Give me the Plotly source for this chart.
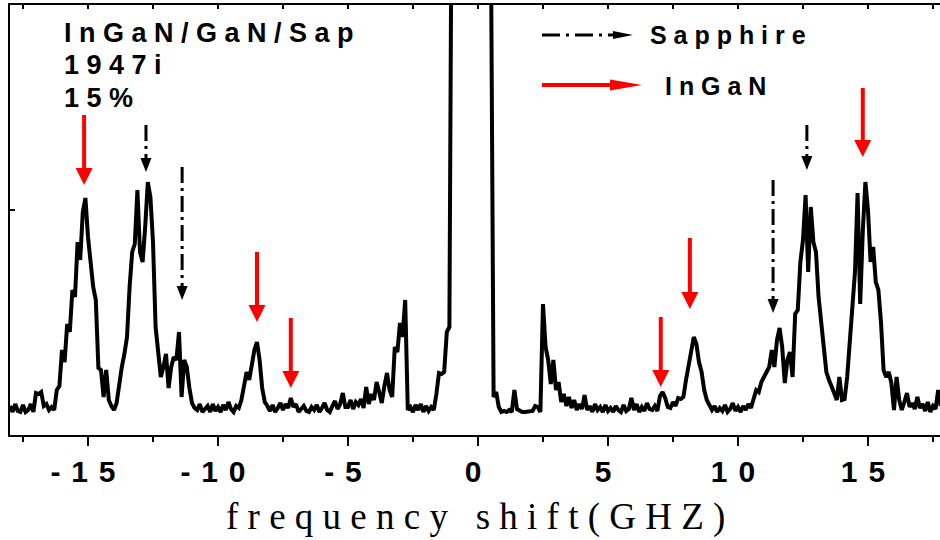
import numpy as np
import plotly.graph_objects as go

# ---------------- data ----------------
# frequency grid, GHz (0.1 GHz steps from -18.0 to 17.8)
x_ghz = np.round(np.arange(-180, 179) / 10.0, 1)

# Brillouin intensity, arbitrary units (one row per 1 GHz)
intensity = (
    [6, 0, 8, 1, 0, 7, 0, 2, 8, 0] +              # -18.0 .. -17.1
    [19, 18, 20, 6, 8, 2, 5, 2, 22, 26] +         # -17.0 .. -16.1
    [62, 50, 88, 80, 122, 115, 170, 152, 200, 214] +  # -16.0 .. -15.1
    [175, 145, 125, 112, 44, 42, 15, 42, 12, 6] +     # -15.0 .. -14.1
    [2, 9, 30, 45, 58, 75, 125, 160, 168, 222] +      # -14.0 .. -13.1
    [160, 150, 185, 230, 215, 170, 85, 60, 35, 45] +  # -13.0 .. -12.1
    [58, 24, 45, 55, 52, 80, 15, 52, 45, 24] +        # -12.0 .. -11.1
    [9, 4, 2, 8, 0, 3, 6, 0, 8, 1] +                  # -11.0 .. -10.1
    [5, 0, 7, 2, 10, 3, 0, 6, 4, 12] +                # -10.0 .. -9.1
    [25, 40, 32, 50, 62, 70, 52, 24, 10, 6] +         # -9.0 .. -8.1
    [1, 7, 0, 4, 9, 2, 8, 4, 14, 5] +                 # -8.0 .. -7.1
    [8, 0, 3, 6, 1, 0, 5, 2, 7, 0] +                  # -7.0 .. -6.1
    [4, 9, 2, 0, 6, 11, 3, 8, 19, 5] +                # -6.0 .. -5.1
    [5, 12, 3, 10, 7, 13, 4, 25, 8, 18] +             # -5.0 .. -4.1
    [12, 30, 20, 9, 26, 39, 22, 15, 65, 60] +         # -4.0 .. -3.1
    [89, 75, 112, 2, 5, 0, 7, 2, 8, 0] +              # -3.0 .. -2.1
    [6, 1, 5, 2, 18, 39, 38, 40, 80, 85] +            # -2.0 .. -1.1
    [600, 2000, 3000, 3500, 3800, 4000, 4000, 3900, 3800, 3600] +  # -1.0 .. -0.1
    [3300, 3000, 2500, 1800, 900, 400, 15, 20, 5, 0] +  # 0.0 .. 0.9
    [1, 0, 2, 0, 22, 3, 1, 0, 0, 0] +                 # 1.0 .. 1.9
    [0, 1, 6, 5, 0, 108, 65, 52, 28, 52] +            # 2.0 .. 2.9
    [22, 30, 10, 18, 6, 15, 4, 12, 2, 8] +            # 3.0 .. 3.9
    [3, 17, 2, 6, 0, 8, 2, 5, 0, 7] +                 # 4.0 .. 4.9
    [1, 4, 0, 6, 2, 0, 7, 1, 3, 14] +                 # 5.0 .. 5.9
    [2, 8, 0, 5, 1, 9, 3, 2, 6, 1] +                  # 6.0 .. 6.9
    [16, 20, 14, 5, 4, 10, 6, 14, 13, 15] +           # 7.0 .. 7.9
    [32, 45, 58, 75, 68, 50, 40, 22, 12, 6] +         # 8.0 .. 8.9
    [2, 6, 0, 4, 1, 7, 0, 3, 9, 1] +                  # 9.0 .. 9.9
    [5, 0, 6, 2, 8, 4, 15, 22, 20, 30] +              # 10.0 .. 10.9
    [35, 40, 45, 62, 45, 72, 84, 65, 29, 52] +        # 11.0 .. 11.9
    [60, 35, 98, 102, 150, 172, 217, 140, 205, 170] + # 12.0 .. 12.9
    [160, 115, 90, 62, 40, 32, 24, 19, 12, 35] +      # 13.0 .. 13.9
    [12, 13, 35, 69, 115, 140, 219, 108, 180, 230] +  # 14.0 .. 14.9
    [202, 150, 165, 130, 122, 90, 42, 35, 40, 29] +   # 15.0 .. 15.9
    [2, 35, 12, 2, 10, 19, 5, 9, 3, 15] +             # 16.0 .. 16.9
    [4, 8, 1, 10, 0, 6, 3, 22, 6]                     # 17.0 .. 17.8
)

tick_vals = [-15, -10, -5, 0, 5, 10, 15]
tick_text = ["-15", "-10", "-5", "0", "5", "10", "15"]
minor_vals = [-17.5, -12.5, -7.5, -2.5, 2.5, 7.5, 12.5, 17.5]

# peak markers: InGaN (red, solid) and Sapphire (black, dash-dot)
ingan_arrow_x = [-15.15, -8.5, -7.2, 7.03, 8.15, 14.8]
ingan_arrow_tail = [297, 160, 94, 95, 174, 324]
ingan_arrow_tip = [227, 90, 24, 25, 103, 255]
sapphire_arrow_x = [-12.77, -11.38, 11.35, 12.65]
sapphire_arrow_tail = [287, 245, 232, 287]
sapphire_arrow_tip = [240, 112, 99, 242]

sample_lines = ["InGaN/GaN/Sap", "1947i", "15%"]
legend_labels = ["Sapphire", "InGaN"]
x_title = "frequency shift(GHZ)"

NB = "\u00a0"


def spaced(s, sep=NB):
    return sep.join(s)


# ---------------- geometry ----------------
W, H = 940, 540
ML, MR, MT, MB = 10, 0, 5, 105
X_RANGE = [-18.0, 17.77]
Y_RANGE = [-23, 407]
px_per_x = (W - ML - MR) / (X_RANGE[1] - X_RANGE[0])
px_per_y = (H - MT - MB) / (Y_RANGE[1] - Y_RANGE[0])

RED = "#ff0000"
DASHDOT = "16px,5px,3px,5px"

fig = go.Figure()
fig.add_trace(go.Scatter(x=x_ghz, y=intensity, mode="lines",
                         line=dict(color="black", width=4),
                         hoverinfo="skip", showlegend=False))
# dummy trace so the mirrored top axis is drawn
fig.add_trace(go.Scatter(x=[None], y=[None], xaxis="x2", yaxis="y",
                         showlegend=False, hoverinfo="skip"))

shapes = []


def down_arrow(x, tail, tip, color, width, dash, head_len_px, head_w_px):
    hl = head_len_px / px_per_y
    hw = head_w_px / 2 / px_per_x
    shapes.append(dict(type="line", xref="x", yref="y", x0=x, x1=x,
                       y0=tail, y1=tip + hl * 0.9,
                       line=dict(color=color, width=width, dash=dash)))
    shapes.append(dict(type="path", xref="x", yref="y",
                       path=f"M {x - hw},{tip + hl} L {x + hw},{tip + hl} L {x},{tip} Z",
                       fillcolor=color, line=dict(width=0)))


def right_arrow(x0, x_base, x_tip, y, color, width, dash, head_h_px):
    hh = head_h_px / 2 / px_per_y
    shapes.append(dict(type="line", xref="x", yref="y", x0=x0, x1=x_base + 0.05,
                       y0=y, y1=y, line=dict(color=color, width=width, dash=dash)))
    shapes.append(dict(type="path", xref="x", yref="y",
                       path=f"M {x_base},{y - hh} L {x_base},{y + hh} L {x_tip},{y} Z",
                       fillcolor=color, line=dict(width=0)))


for xa, ta, tp in zip(ingan_arrow_x, ingan_arrow_tail, ingan_arrow_tip):
    down_arrow(xa, ta, tp, RED, 4, "solid", 17, 17)
for xa, ta, tp in zip(sapphire_arrow_x, sapphire_arrow_tail, sapphire_arrow_tip):
    down_arrow(xa, ta, tp, "black", 3, DASHDOT, 14, 11)

# legend keys
right_arrow(2.46, 5.19, 5.96, 377, "black", 3, "18px,6px,3px,6px", 8)
right_arrow(2.46, 5.08, 6.31, 327, RED, 4, "solid", 11)

annotations = []
bold25 = dict(family="Liberation Sans, Arial, sans-serif", size=25, color="black", weight="bold")
bold27 = dict(family="Liberation Sans, Arial, sans-serif", size=27, color="black", weight="bold")
for txt, yv in zip(sample_lines, [379, 347, 314]):
    annotations.append(dict(x=-16.0, y=yv, xref="x", yref="y", text=spaced(txt), showarrow=False,
                            xanchor="left", yanchor="middle", font=bold27))
annotations.append(dict(x=6.55, y=377, xref="x", yref="y", text=spaced(legend_labels[0]),
                        showarrow=False, xanchor="left", yanchor="middle", font=bold25))
annotations.append(dict(x=7.1, y=326, xref="x", yref="y", text=spaced(legend_labels[1]),
                        showarrow=False, xanchor="left", yanchor="middle", font=bold25))
title_txt = (NB * 3).join([spaced(w) for w in x_title.split(" ")])
annotations.append(dict(x=0.5, y=-0.19, xref="paper", yref="paper", text=title_txt, showarrow=False,
                        xanchor="center", yanchor="middle",
                        font=dict(family="Liberation Serif, Times New Roman, serif", size=37, color="black")))

fig.update_layout(
    width=W, height=H,
    margin=dict(l=ML, r=MR, t=MT, b=MB),
    plot_bgcolor="white", paper_bgcolor="white",
    showlegend=False,
    shapes=shapes, annotations=annotations,
    xaxis=dict(range=X_RANGE, showline=True, linecolor="black", linewidth=2,
               ticks="outside", ticklen=9, tickwidth=2, tickcolor="black",
               tickvals=tick_vals, ticktext=[spaced(t, NB + "\u200a") for t in tick_text],
               tickfont=dict(family="Liberation Sans, Arial, sans-serif", size=30,
                             color="black", weight="bold"),
               ticklabelshift=-5, ticklabelstandoff=0,
               minor=dict(tickvals=minor_vals, ticks="outside", ticklen=5,
                          tickwidth=2, tickcolor="black"),
               showgrid=False, zeroline=False),
    xaxis2=dict(range=X_RANGE, overlaying="x", side="top", anchor="y",
                showline=True, linecolor="black", linewidth=2,
                ticks="inside", ticklen=4, tickwidth=1.5, tickcolor="black",
                tickvals=[-17.5, -15, -12.5, -10, -7.5, -5, -2.5, 0, 2.5, 5, 7.5, 10, 12.5, 15, 17.5],
                showticklabels=False, showgrid=False, zeroline=False),
    yaxis=dict(range=Y_RANGE, showline=True, linecolor="black", linewidth=2,
               ticks="inside", ticklen=5, tickwidth=1.5, tickcolor="black",
               tickvals=[202], showticklabels=False,
               showgrid=False, zeroline=False),
)

fig.write_html("out.html")
